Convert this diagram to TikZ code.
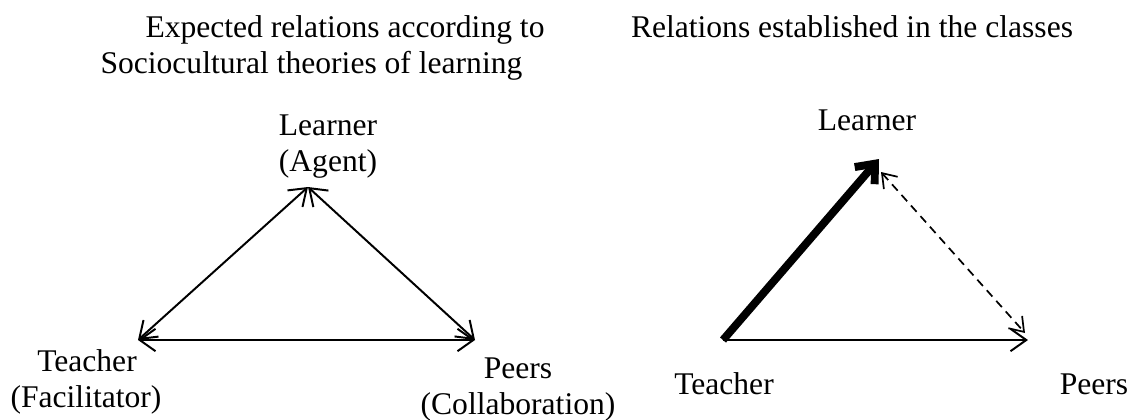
\documentclass[tikz,border=0pt]{standalone}
\usepackage{fontspec}
\setmainfont{Liberation Serif}
\usetikzlibrary{arrows.meta,positioning}

\begin{document}
\begin{tikzpicture}[
    x=0.38pt, y=-0.38pt,
    lbl/.style={
        font=\fontsize{12}{13.8}\selectfont,
        inner sep=0pt,
        anchor=base
    },
    rel/.style={{Straight Barb[length=6pt,width=8.5pt]}-{Straight Barb[length=6pt,width=8.5pt]}, line width=0.75pt},
    strong/.style={-{Straight Barb[length=6pt,width=10pt]}, line width=3pt},
    weak/.style={{Straight Barb[length=5pt,width=7pt]}-{Straight Barb[length=5pt,width=7pt]}, line width=0.65pt, dash pattern=on 3.2pt off 2.2pt}
]
\useasboundingbox (0,0) rectangle (1133,419);

% Titles
\node[lbl, anchor=base west] (titleA) at (145,37) {Expected relations according to};
\node[lbl, anchor=base west] (titleB) at (100,73) {Sociocultural theories of learning};
\node[lbl] (titleC) at (852,37) {Relations established in the classes};

% Expected triangle
\coordinate (learnerA) at (308,187);
\coordinate (teacherA) at (138,340);
\coordinate (peersA) at (475,340);

\node[lbl] (learnerTxtA) at (328,135) {Learner};
\node[lbl] (agentTxt) at (328,171) {(Agent)};
\node[lbl] (teacherTxtA) at (87,371) {Teacher};
\node[lbl] (facilTxt) at (86,407) {(Facilitator)};
\node[lbl] (peersTxtA) at (518,378) {Peers};
\node[lbl] (collabTxt) at (518,414) {(Collaboration)};

\draw[rel] (teacherA) -- (learnerA);
\draw[rel] (learnerA) -- (peersA);
\draw[rel] (teacherA) -- (peersA);

% Observed triangle
\coordinate (learnerB) at (879,159);
\coordinate (learnerC) at (881,172);
\coordinate (teacherB) at (723,340);
\coordinate (peersB) at (1028,340);
\coordinate (peersC) at (1025,333);

\node[lbl] (learnerTxtB) at (867,130) {Learner};
\node[lbl] (teacherTxtB) at (724,394) {Teacher};
\node[lbl] (peersTxtB) at (1094,394) {Peers};

\draw[strong] (teacherB) -- (learnerB);
\draw[weak] (learnerC) -- (peersC);
\draw[-{Straight Barb[length=6pt,width=8.5pt]}, line width=0.75pt] (teacherB) -- (peersB);

\end{tikzpicture}
\end{document}
